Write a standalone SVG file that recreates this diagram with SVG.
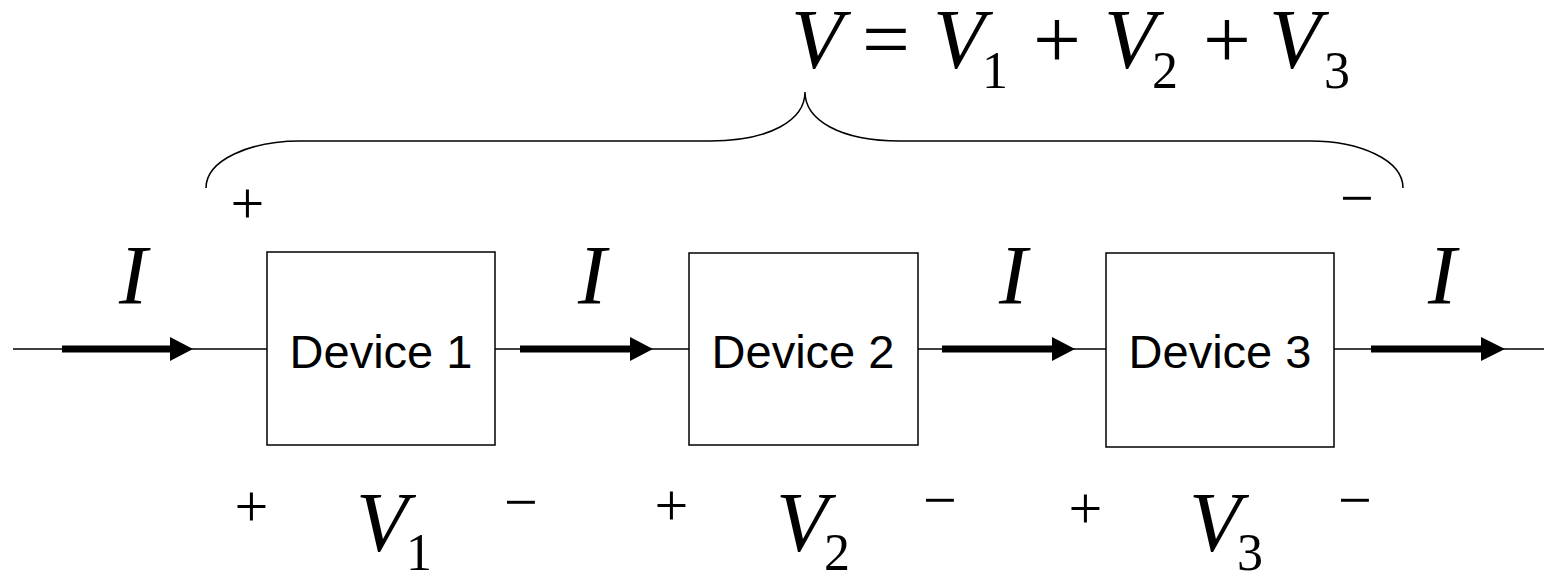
<svg xmlns="http://www.w3.org/2000/svg" width="1554" height="573" viewBox="0 0 1554 573">
<style>
.box{fill:#fff;stroke:#000;stroke-width:1.5}
.wire{stroke:#000;stroke-width:1.5;fill:none}
.thick{stroke:#000;stroke-width:7;fill:none}
.dev{font-family:"Liberation Sans",Arial,sans-serif;font-size:47px;text-anchor:middle;fill:#000}
.mi{font-family:"Liberation Serif","Times New Roman",serif;font-style:italic;font-size:85px;fill:#000}
.mr{font-family:"Liberation Serif","Times New Roman",serif;font-size:85px;fill:#000}
.sub{font-family:"Liberation Serif","Times New Roman",serif;font-size:52px;fill:#000}
.sign{font-family:"Liberation Serif","Times New Roman",serif;font-size:60px;text-anchor:middle;fill:#000}
</style>
<g id="connectors">
<line class="wire" x1="13" y1="349" x2="267" y2="349"/>
<line class="wire" x1="495" y1="349" x2="689" y2="349"/>
<line class="wire" x1="918" y1="349" x2="1106" y2="349"/>
<line class="wire" x1="1334" y1="349" x2="1544" y2="349"/>
<line class="thick" x1="62" y1="349" x2="172" y2="349"/>
<polygon points="170,337 193,349 170,361"/>
<line class="thick" x1="520" y1="349" x2="632" y2="349"/>
<polygon points="630,337 653,349 630,361"/>
<line class="thick" x1="942" y1="349" x2="1054" y2="349"/>
<polygon points="1052,337 1075,349 1052,361"/>
<line class="thick" x1="1371" y1="349" x2="1483" y2="349"/>
<polygon points="1481,337 1505,349 1481,361"/>
<path class="wire" d="M206,188 C206,160 250,141 300,141 L710,141 C770,141 805,120 805,92 C805,120 840,141 900,141 L1310,141 C1360,141 1403,160 1403,188"/>
</g>
<g id="device1">
<rect class="box" x="267" y="252" width="228" height="193"/>
<text class="dev" x="381" y="368">Device 1</text>
</g>
<g id="device2">
<rect class="box" x="689" y="253" width="229" height="192"/>
<text class="dev" x="803" y="368">Device 2</text>
</g>
<g id="device3">
<rect class="box" x="1106" y="253" width="228" height="194"/>
<text class="dev" x="1220" y="368">Device 3</text>
</g>
<g id="currents">
<text class="mi" x="119" y="304">I</text>
<text class="mi" x="578" y="304">I</text>
<text class="mi" x="999" y="304">I</text>
<text class="mi" x="1428" y="304">I</text>
</g>
<g id="equation">
<text class="mi" x="791" y="68">V</text>
<text class="mr" x="862" y="68">=</text>
<text class="mi" x="933" y="68">V</text>
<text class="sub" x="982" y="88">1</text>
<text class="mr" x="1033" y="68">+</text>
<text class="mi" x="1104" y="68">V</text>
<text class="sub" x="1152" y="88">2</text>
<text class="mr" x="1203" y="68">+</text>
<text class="mi" x="1269" y="68">V</text>
<text class="sub" x="1324" y="88">3</text>
</g>
<g id="signs">
<text class="sign" x="247.5" y="223">+</text>
<text class="sign" x="1357" y="218">−</text>
<text class="sign" x="251.5" y="526">+</text>
<text class="sign" x="521" y="522">−</text>
<text class="sign" x="671.5" y="525">+</text>
<text class="sign" x="940" y="520">−</text>
<text class="sign" x="1085.5" y="528">+</text>
<text class="sign" x="1355" y="520">−</text>
</g>
<g id="voltages">
<text class="mi" x="356" y="551">V</text>
<text class="sub" x="406" y="570">1</text>
<text class="mi" x="776" y="551">V</text>
<text class="sub" x="824" y="570">2</text>
<text class="mi" x="1189" y="551">V</text>
<text class="sub" x="1237" y="570">3</text>
</g>
</svg>
